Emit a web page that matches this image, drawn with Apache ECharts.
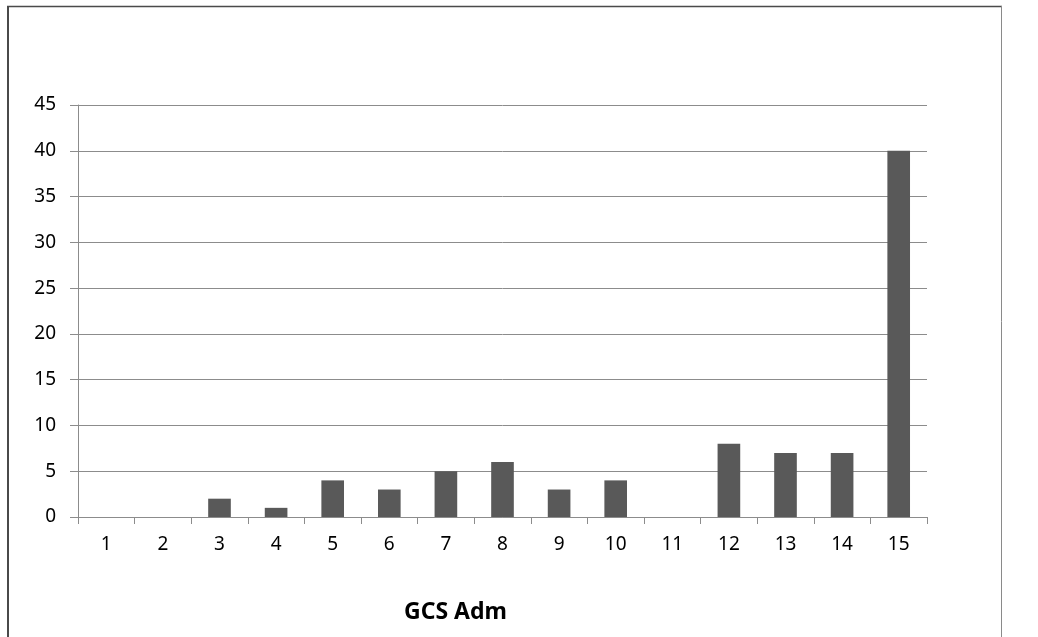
<!DOCTYPE html>
<html>
<head>
<meta charset="utf-8">
<script src="https://cdn.jsdelivr.net/npm/echarts@6/dist/echarts.min.js"></script>
<style>
  html, body { margin: 0; padding: 0; background: #fff; }
  #chart { width: 1038px; height: 637px; }
</style>
</head>
<body>
<div id="chart"></div>
<script>
// GCS score on admission (1–15) and number of patients at each score
const categories = ['1', '2', '3', '4', '5', '6', '7', '8', '9', '10', '11', '12', '13', '14', '15'];
const counts = [0, 0, 2, 1, 4, 3, 5, 6, 3, 4, 0, 8, 7, 7, 40];
const axisTitle = 'GCS Adm';

const FONT = '"Noto Sans", "Open Sans", sans-serif';

const chart = echarts.init(document.getElementById('chart'), null, { renderer: 'canvas' });

chart.setOption({
  animation: false,
  backgroundColor: '#ffffff',
  title: {
    text: axisTitle,
    left: 399,
    top: 596,
    textStyle: { fontFamily: FONT, fontSize: 23, fontWeight: 'bold', color: '#000' }
  },
  grid: { left: 78, right: 111, top: 105, bottom: 120, containLabel: false },
  xAxis: {
    type: 'category',
    data: categories,
    boundaryGap: true,
    axisLine: { show: true, lineStyle: { color: '#8c8c8c', width: 1 } },
    axisTick: { show: true, alignWithLabel: false, length: 7, lineStyle: { color: '#8c8c8c' } },
    axisLabel: { color: '#000', fontFamily: FONT, fontSize: 19, margin: 18 },
    splitLine: { show: false }
  },
  yAxis: {
    type: 'value',
    min: 0,
    max: 45,
    interval: 5,
    axisLine: { show: true, lineStyle: { color: '#8c8c8c', width: 1 } },
    axisTick: { show: true, length: 8, lineStyle: { color: '#8c8c8c' } },
    axisLabel: { color: '#000', fontFamily: FONT, fontSize: 19, margin: 22 },
    splitLine: { show: true, lineStyle: { color: '#8c8c8c', width: 1 } }
  },
  series: [{
    type: 'bar',
    data: counts,
    barWidth: '40%',
    itemStyle: { color: '#595959', borderWidth: 0 }
  }],
  graphic: [
    { type: 'line', silent: true, shape: { x1: 8, y1: 6, x2: 8, y2: 637 }, style: { stroke: '#4a4a4a', lineWidth: 2 } },
    { type: 'line', silent: true, shape: { x1: 7, y1: 6.5, x2: 1002, y2: 6.5 }, style: { stroke: '#4a4a4a', lineWidth: 1.5 } },
    { type: 'line', silent: true, shape: { x1: 1001.5, y1: 6, x2: 1001.5, y2: 637 }, style: { stroke: '#8a8a8a', lineWidth: 1 } }
  ]
});
</script>
</body>
</html>
